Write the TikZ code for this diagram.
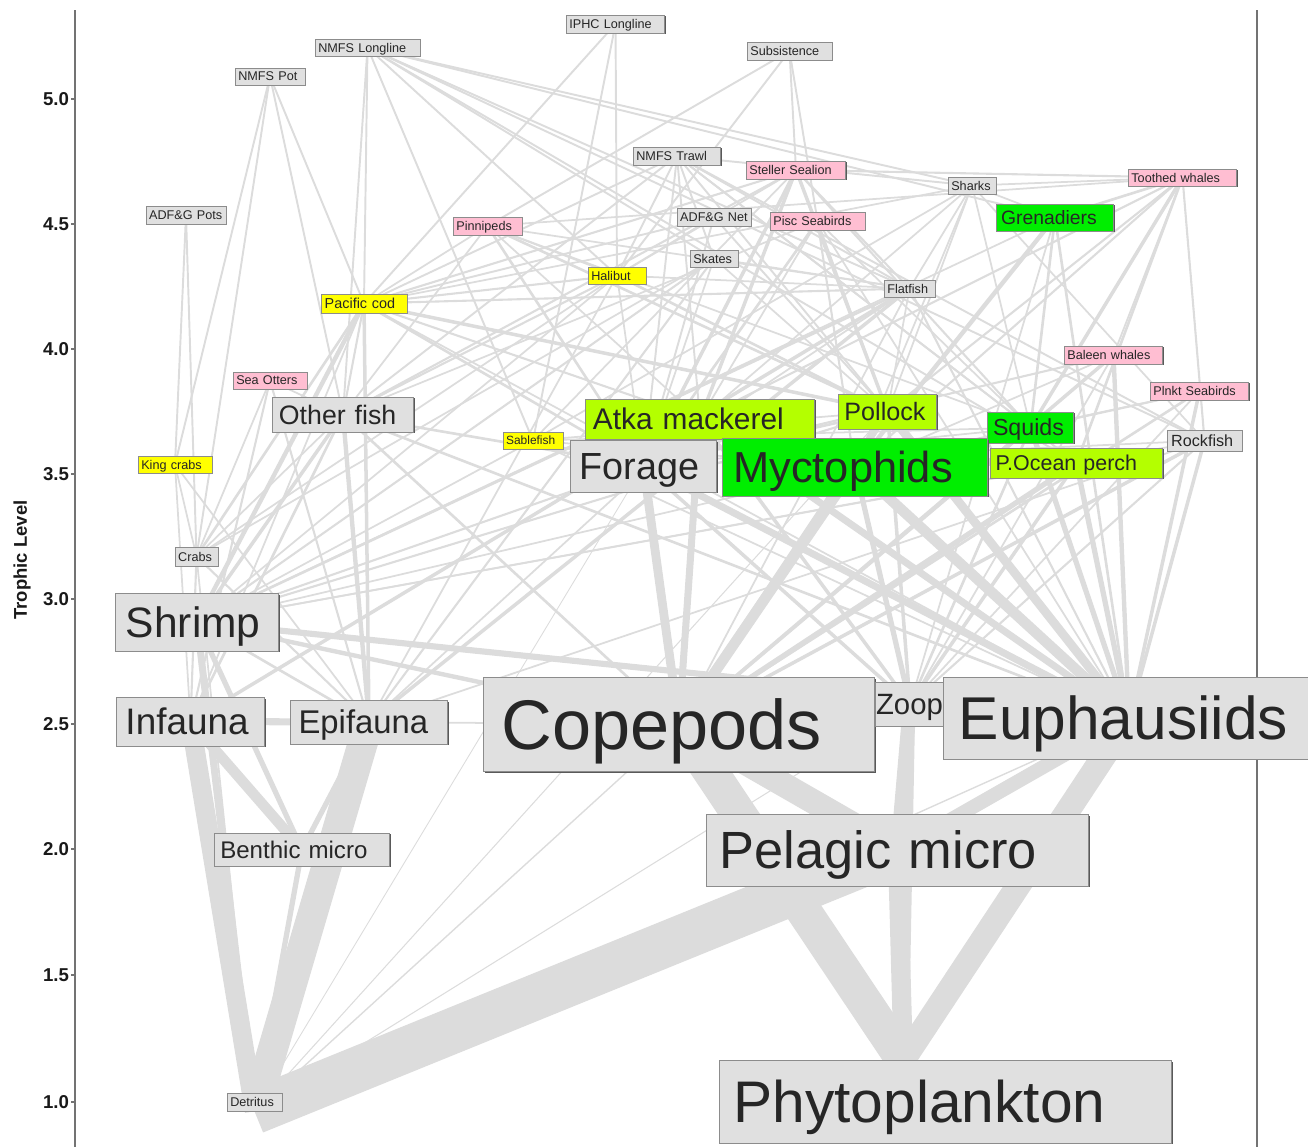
\documentclass[tikz,border=0pt]{standalone}
\usepackage{fontspec}
\setmainfont{Liberation Sans}
\usetikzlibrary{backgrounds,shadows}
\definecolor{web}{RGB}{220,220,220}
\definecolor{boxgrey}{RGB}{224,224,224}
\definecolor{seapink}{RGB}{255,190,210}
\definecolor{fishyellow}{RGB}{255,255,0}
\definecolor{fishlime}{RGB}{180,255,0}
\definecolor{fishgreen}{RGB}{0,238,0}

\begin{document}
\begin{tikzpicture}[x=0.02cm, y=-0.02cm,
    lab/.style n args={3}{font=\fontsize{#1}{#1}\selectfont, inner xsep=#1*0.25pt, text width=#2pt, minimum height=#3*0.567pt},
    box/.style={draw=black!45, line width=0.4pt, fill=boxgrey, text=black!85, inner ysep=0pt, align=left, text depth=0pt,
        general shadow={fill=black!65, shadow xshift=0.8pt, shadow yshift=-0.8pt}},
    fl/.style={draw=web, line width=#1pt},
    axis/.style={draw=black!55, line width=1.4pt}]
    \useasboundingbox (0,0) rectangle (1308,1147);

    % fisheries
    \node[box, lab={7.2}{56}{17}] (nmfsll) at (367.5,47.5) {NMFS Longline};
    \node[box, lab={7.2}{36.1}{17}] (nmfspot) at (270,76.5) {NMFS Pot};
    \node[box, lab={7.2}{52.5}{18}] (iphc) at (615.5,24) {IPHC Longline};
    \node[box, lab={7.2}{44.6}{18}] (subs) at (789.5,51) {Subsistence};
    \node[box, lab={7.2}{46.3}{18}] (trawl) at (677,156) {NMFS Trawl};
    \node[box, lab={7.2}{42}{18}] (adfgpots) at (186,215) {ADF\&G Pots};
    \node[box, lab={7.2}{38.5}{18}] (adfgnet) at (714,217) {ADF\&G Net};

    % mammals and birds
    \node[box, fill=seapink, lab={7.2}{53.1}{18}] (steller) at (796,170) {Steller Sealion};
    \node[box, fill=seapink, lab={7.2}{58.2}{17}] (toothed) at (1182.5,177.5) {Toothed whales};
    \node[box, fill=seapink, lab={7.2}{35.5}{18}] (pinni) at (487.5,226) {Pinnipeds};
    \node[box, fill=seapink, lab={7.2}{50.3}{18}] (pisc) at (817.5,221) {Pisc Seabirds};
    \node[box, fill=seapink, lab={7.2}{52.5}{18}] (baleen) at (1113.5,355) {Baleen whales};
    \node[box, fill=seapink, lab={7.2}{38.4}{17}] (otters) at (270,380.5) {Sea Otters};
    \node[box, fill=seapink, lab={7.2}{52.5}{18}] (plnkt) at (1199.5,391) {Plnkt Seabirds};

    % fish and invertebrates
    \node[box, lab={7.2}{23.6}{17}] (sharks) at (972,185.5) {Sharks};
    \node[box, fill=fishgreen, lab={11}{61.4}{27}] (gren) at (1055,217.5) {Grenadiers};
    \node[box, lab={7.2}{23.6}{17}] (skates) at (714,258.5) {Skates};
    \node[box, fill=fishyellow, lab={7.2}{29.3}{17}] (halibut) at (617,275.5) {Halibut};
    \node[box, lab={7.2}{25.3}{17}] (flatfish) at (909.5,288.5) {Flatfish};
    \node[box, fill=fishyellow, lab={8.2}{44.7}{19}] (pcod) at (364,303.5) {Pacific cod};
    \node[box, lab={15.2}{72.9}{35}] (other) at (343,414.5) {Other fish};
    \node[box, fill=fishlime, lab={17}{121.9}{40}] (atka) at (700,419) {Atka mackerel};
    \node[box, fill=fishlime, lab={14.3}{49}{35}] (pollock) at (887.5,411.5) {Pollock};
    \node[box, fill=fishgreen, lab={13.2}{42.7}{31}] (squids) at (1030.5,427.5) {Squids};
    \node[box, fill=fishyellow, lab={6.8}{30.6}{17}] (sable) at (533,440.5) {Sablefish};
    \node[box, lab={21.5}{72.6}{52}] (forage) at (643.5,466) {Forage};
    \node[box, fill=fishgreen, lab={24.7}{138.5}{58}] (mycto) at (855,467) {Myctophids};
    \node[box, fill=fishlime, lab={12.2}{92}{30}] (pop) at (1076.5,463) {P.Ocean perch};
    \node[box, lab={9.2}{37.9}{21}] (rock) at (1204.5,440.5) {Rockfish};
    \node[box, fill=fishyellow, lab={7.2}{38.4}{17}] (kingcrab) at (175,464.5) {King crabs};
    \node[box, lab={7.2}{20.8}{19}] (crabs) at (196.5,556.5) {Crabs};
    \node[box, lab={24.2}{80.9}{58}] (shrimp) at (197,622) {Shrimp};
    \node[box, lab={21}{74}{49}] (infauna) at (190.5,721.5) {Infauna};
    \node[box, lab={18.7}{80.2}{44}] (epifauna) at (369,722) {Epifauna};
    \node[box, lab={40}{202.3}{95}] (cope) at (679,724.5) {Copepods};
    \node[box, lab={16.7}{38.7}{44}, inner xsep=0.5pt] (zoop) at (910,704) {Zoop};
    \node[box, lab={34.4}{193.7}{82}] (euph) at (1129,718) {Euphausiids};
    \node[box, lab={13.7}{93}{33}] (benthic) at (302,849.5) {Benthic micro};
    \node[box, lab={29.8}{202.3}{72}] (pelagic) at (897.5,850) {Pelagic micro};
    \node[box, lab={7.2}{27.6}{18}] (detritus) at (254.5,1102) {Detritus};
    \node[box, lab={33.4}{240.7}{83}] (phyto) at (945,1101.5) {Phytoplankton};

    % axis
    \node[rotate=90, text=black!90, font=\bfseries\fontsize{10.5}{10.5}\selectfont] (ylabel) at (22,560) {Trophic Level};
    \foreach \v/\y [count=\i] in {5.0/99, 4.5/224, 4.0/349, 3.5/474, 3.0/599, 2.5/724, 2.0/849, 1.5/975, 1.0/1102}
        \node[anchor=east, inner sep=1pt, text=black!90, font=\bfseries\fontsize{10.6}{10.6}\selectfont] (tick\i) at (71,\y) {\v};

    \begin{scope}[on background layer]
        \draw[axis] (75,10) -- (75,1147);
        \draw[axis, line width=1pt] (1257,10) -- (1257,1147);
        \foreach \y in {99,224,349,474,599,724,849,975,1102}
            \draw[axis, line width=0.6pt] (71,\y) -- (75,\y);

        % catches
        \foreach \b in {pcod,other,sable,halibut,sharks,gren,skates,rock,flatfish,pop}
            \draw[fl=1.1] (nmfsll.center) -- (\b.center);
        \foreach \b in {crabs,kingcrab,pcod,other}
            \draw[fl=1.1] (nmfspot.center) -- (\b.center);
        \foreach \b in {kingcrab,crabs}
            \draw[fl=1.1] (adfgpots.center) -- (\b.center);
        \foreach \b in {halibut,sable,pcod}
            \draw[fl=1.1] (iphc.center) -- (\b.center);
        \foreach \b in {pinni,steller,pisc,halibut}
            \draw[fl=1.1] (subs.center) -- (\b.center);
        \foreach \b in {pollock,atka,pop,flatfish,pcod,rock,other,skates,sharks,squids,forage,halibut}
            \draw[fl=1.1] (trawl.center) -- (\b.center);
        \foreach \b in {forage,pcod,pollock,halibut}
            \draw[fl=1.1] (adfgnet.center) -- (\b.center);

        % predators
        \foreach \b/\w in {pollock/2,atka/2,pcod/1.2,forage/2,squids/1.2,other/1.2,flatfish/1.2,halibut/1,sable/1}
            \draw[fl=\w] (steller.center) -- (\b.center);
        \foreach \b/\w in {steller/1.2,pinni/1,sharks/1,squids/2,gren/1.5,pollock/1.2,rock/1.2,pop/1.5,mycto/1.2,atka/1.2,baleen/1}
            \draw[fl=\w] (toothed.center) -- (\b.center);
        \foreach \b in {pollock,gren,squids,flatfish,pcod,sable,mycto,atka,rock}
            \draw[fl=1] (sharks.center) -- (\b.center);
        \foreach \b/\w in {pollock/1.5,pcod/1,other/1,forage/1.5,halibut/1,atka/1,squids/1,flatfish/1}
            \draw[fl=\w] (pinni.center) -- (\b.center);
        \foreach \b/\w in {forage/1.5,mycto/1.2,pollock/1,squids/1,atka/1,euph/1,other/1}
            \draw[fl=\w] (pisc.center) -- (\b.center);
        \foreach \b/\w in {euph/2.5,cope/2,forage/1.2,mycto/1,zoop/1}
            \draw[fl=\w] (baleen.center) -- (\b.center);
        \foreach \b/\w in {euph/2,cope/1.5,mycto/1.2,zoop/1,squids/1}
            \draw[fl=\w] (plnkt.center) -- (\b.center);
        \foreach \b/\w in {epifauna/1.2,infauna/1.2,crabs/1,other/1}
            \draw[fl=\w] (otters.center) -- (\b.center);

        % fish and invertebrates
        \foreach \b/\w in {mycto/2.5,squids/1.5,euph/1.5,zoop/1,shrimp/1}
            \draw[fl=\w] (gren.center) -- (\b.center);
        \foreach \b/\w in {pollock/1.5,pcod/1.2,forage/1,crabs/1,shrimp/1,epifauna/1,other/1.2,flatfish/1}
            \draw[fl=\w] (halibut.center) -- (\b.center);
        \foreach \b/\w in {epifauna/1.2,shrimp/1.2,forage/1,pollock/1,crabs/1,flatfish/1}
            \draw[fl=\w] (skates.center) -- (\b.center);
        \foreach \b/\w in {epifauna/2,infauna/2,shrimp/1.5,euph/1.2,cope/1,forage/1,pollock/1}
            \draw[fl=\w] (flatfish.center) -- (\b.center);
        \foreach \b/\w in {pollock/2,shrimp/2.5,crabs/1.5,epifauna/2,forage/1.5,other/1.2,atka/1.2,flatfish/1.2,infauna/1,euph/1}
            \draw[fl=\w] (pcod.center) -- (\b.center);
        \foreach \b in {forage,mycto,squids,euph,pollock,shrimp}
            \draw[fl=1] (sable.center) -- (\b.center);
        \foreach \b/\w in {shrimp/2,epifauna/2.5,forage/1.5,cope/1.5,euph/1.5,infauna/1.5,crabs/1}
            \draw[fl=\w] (other.center) -- (\b.center);
        \foreach \b in {epifauna,infauna,crabs}
            \draw[fl=1] (kingcrab.center) -- (\b.center);
        \foreach \b/\w in {epifauna/1.2,infauna/1.2}
            \draw[fl=\w] (crabs.center) -- (\b.center);
        \foreach \b/\w in {euph/4,cope/4,zoop/2,forage/1.5,mycto/1.5,epifauna/1}
            \draw[fl=\w] (atka.center) -- (\b.center);
        \foreach \b/\w in {euph/5,cope/4,zoop/2,forage/1.5,mycto/2,shrimp/1.2}
            \draw[fl=\w] (pollock.center) -- (\b.center);
        \foreach \b/\w in {euph/3,cope/2,mycto/2,zoop/1.5,forage/1,shrimp/1}
            \draw[fl=\w] (squids.center) -- (\b.center);
        \foreach \b/\w in {cope/5,euph/4,zoop/2,shrimp/1.2}
            \draw[fl=\w] (forage.center) -- (\b.center);
        \foreach \b/\w in {euph/6,cope/6,zoop/3}
            \draw[fl=\w] (mycto.center) -- (\b.center);
        \foreach \b/\w in {euph/3,cope/3,zoop/2,mycto/1.5,shrimp/1}
            \draw[fl=\w] (pop.center) -- (\b.center);
        \foreach \b/\w in {euph/2,cope/2,zoop/1.2,shrimp/1,forage/1,epifauna/1}
            \draw[fl=\w] (rock.center) -- (\b.center);
        \foreach \b/\w in {euph/3.5,cope/2.5,benthic/3,epifauna/1.5}
            \draw[fl=\w] (shrimp.center) -- (\b.center);
        \foreach \b/\w in {benthic/3,infauna/4,cope/1}
            \draw[fl=\w] (epifauna.center) -- (\b.center);
        \draw[fl=6] (infauna.center) -- (benthic.center);
        \draw[fl=14] (cope.center) -- (pelagic.center);
        \draw[fl=8] (zoop.center) -- (pelagic.center);
        \draw[fl=8] (euph.center) -- (pelagic.center);

        % flows from the base
        \foreach \a/\w in {pelagic/26,epifauna/17,infauna/11,shrimp/4,benthic/3,cope/0.8,zoop/0.6,euph/0.8,crabs/1,forage/0.5,pollock/0.6}
            \draw[fl=\w] (\a.center) -- (detritus.south);
        \foreach \a/\w in {cope/20,euph/14,pelagic/11,zoop/6}
            \draw[fl=\w] (\a.center) -- (phyto.135);
    \end{scope}
\end{tikzpicture}
\end{document}
